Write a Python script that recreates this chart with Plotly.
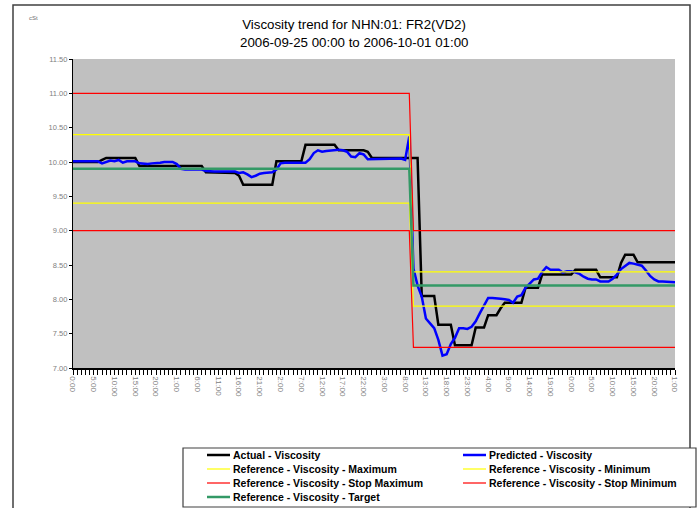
import plotly.graph_objects as go

# ---------------- data ----------------
hours = list(range(146))  # 2006-09-25 00:00 .. 2006-10-01 01:00, hourly

actual = [
    10.00, 10.00, 10.00, 10.00, 10.00, 10.00, 10.00, 10.03, 10.06, 10.06,
    10.06, 10.06, 10.06, 10.06, 10.06, 10.06, 9.94, 9.94, 9.94, 9.94,
    9.94, 9.94, 9.94, 9.94, 9.94, 9.94, 9.94, 9.94, 9.94, 9.94,
    9.94, 9.94, 9.85, 9.85, 9.85, 9.85, 9.85, 9.85, 9.85, 9.84,
    9.80, 9.67, 9.67, 9.67, 9.67, 9.67, 9.67, 9.67, 9.67, 10.01,
    10.01, 10.01, 10.01, 10.01, 10.01, 10.01, 10.25, 10.25, 10.25, 10.25,
    10.25, 10.25, 10.25, 10.25, 10.17, 10.17, 10.17, 10.17, 10.17, 10.17,
    10.17, 10.15, 10.06, 10.06, 10.06, 10.06, 10.06, 10.06, 10.06, 10.06,
    10.06, 10.06, 10.06, 10.06, 8.05, 8.05, 8.05, 8.05, 7.63, 7.63,
    7.63, 7.63, 7.33, 7.33, 7.33, 7.33, 7.33, 7.59, 7.59, 7.59,
    7.77, 7.77, 7.77, 7.87, 7.95, 7.95, 7.95, 7.95, 7.95, 8.17,
    8.17, 8.17, 8.17, 8.36, 8.36, 8.36, 8.36, 8.36, 8.36, 8.36,
    8.36, 8.43, 8.43, 8.43, 8.43, 8.43, 8.43, 8.32, 8.32, 8.32,
    8.32, 8.32, 8.53, 8.65, 8.65, 8.65, 8.54, 8.54, 8.54, 8.54,
    8.54, 8.54, 8.54, 8.54, 8.54, 8.54,
]

predicted = [
    10.01, 10.01, 10.01, 10.01, 10.01, 10.01, 10.01, 9.98, 10.00, 10.02,
    10.01, 10.03, 9.99, 10.01, 10.01, 10.01, 9.98, 9.97, 9.97, 9.98,
    9.98, 9.99, 10.00, 10.00, 10.00, 9.97, 9.90, 9.89, 9.89, 9.89,
    9.89, 9.89, 9.87, 9.86, 9.86, 9.86, 9.86, 9.86, 9.86, 9.86,
    9.84, 9.85, 9.82, 9.78, 9.80, 9.83, 9.84, 9.84, 9.85, 9.89,
    9.98, 9.99, 9.99, 9.99, 10.00, 10.00, 9.99, 10.04, 10.13, 10.17,
    10.15, 10.16, 10.17, 10.18, 10.18, 10.17, 10.15, 10.08, 10.07, 10.13,
    10.11, 10.04, 10.04, 10.05, 10.05, 10.04, 10.05, 10.05, 10.04, 10.05,
    10.03, 10.37, 8.45, 8.20, 8.04, 7.72, 7.65, 7.58, 7.41, 7.18,
    7.20, 7.35, 7.44, 7.58, 7.58, 7.57, 7.60, 7.68, 7.80, 7.92,
    8.02, 8.02, 8.02, 8.01, 8.00, 7.99, 7.95, 8.04, 8.06, 8.17,
    8.23, 8.29, 8.30, 8.40, 8.47, 8.43, 8.43, 8.43, 8.39, 8.41,
    8.41, 8.39, 8.37, 8.33, 8.30, 8.29, 8.29, 8.26, 8.26, 8.26,
    8.30, 8.36, 8.44, 8.48, 8.53, 8.52, 8.50, 8.49, 8.42, 8.34,
    8.29, 8.26, 8.26, 8.26, 8.26, 8.25,
]

# reference limits: value changes between hour 81 and 82
ref_hours = [0, 81, 82, 145]
ref_max = [10.4, 10.4, 8.4, 8.4]
ref_min = [9.4, 9.4, 7.9, 7.9]
stop_max = [11.0, 11.0, 9.0, 9.0]
stop_min = [9.0, 9.0, 7.3, 7.3]
target = [9.9, 9.9, 8.2, 8.2]

tick_hours = list(range(0, 146, 5))
tick_labels = ["0:00", "5:00", "10:00", "15:00", "20:00", "1:00", "6:00", "11:00",
               "16:00", "21:00", "2:00", "7:00", "12:00", "17:00", "22:00", "3:00",
               "8:00", "13:00", "18:00", "23:00", "4:00", "9:00", "14:00", "19:00",
               "0:00", "5:00", "10:00", "15:00", "20:00", "1:00"]

title_line1 = "Viscosity trend for NHN:01: FR2(VD2)"
title_line2 = "2006-09-25 00:00 to 2006-10-01 01:00"

series = [
    ("Actual - Viscosity", hours, actual, "#000000", 2.5),
    ("Predicted - Viscosity", hours, predicted, "#0000FF", 2.5),
    ("Reference - Viscosity - Maximum", ref_hours, ref_max, "#FFFF00", 1.2),
    ("Reference - Viscosity - Minimum", ref_hours, ref_min, "#FFFF00", 1.2),
    ("Reference - Viscosity - Stop Maximum", ref_hours, stop_max, "#FF0000", 1.2),
    ("Reference - Viscosity - Stop Minimum", ref_hours, stop_min, "#FF0000", 1.2),
    ("Reference - Viscosity - Target", ref_hours, target, "#339966", 2.5),
]

FONT = "Liberation Sans, Arial, sans-serif"
W, H = 700, 508
PL, PR, PT, PB = 73, 675, 59, 368


def fx(px):
    return (px - PL) / (PR - PL)


def fy(py):
    return (PB - py) / (PB - PT)


fig = go.Figure()
for name, xs, ys, col, wd in series:
    fig.add_trace(go.Scatter(x=xs, y=ys, mode="lines", name=name,
                             line=dict(color=col, width=wd), showlegend=False,
                             hoverinfo="skip"))

shapes = []
annotations = []

# outer chart border
shapes.append(dict(type="rect", xref="paper", yref="paper",
                   x0=fx(13), x1=fx(690), y0=fy(515), y1=fy(5),
                   line=dict(color="#404040", width=1.5), layer="below"))
# legend box
shapes.append(dict(type="rect", xref="paper", yref="paper",
                   x0=fx(183), x1=fx(696), y0=fy(507), y1=fy(448),
                   line=dict(color="#404040", width=1.2), fillcolor="white", layer="below"))

# legend entries (two columns)
legend_pos = [(207, 455), (463, 455), (207, 469), (463, 469), (207, 483), (463, 483), (207, 497)]
for (name, xs, ys, col, wd), (lx, ly) in zip(series, legend_pos):
    shapes.append(dict(type="line", xref="paper", yref="paper",
                       x0=fx(lx), x1=fx(lx + 23), y0=fy(ly), y1=fy(ly),
                       line=dict(color=col, width=wd)))
    annotations.append(dict(text=name, xref="paper", yref="paper",
                            x=fx(lx + 24), y=fy(ly), xanchor="left", yanchor="middle",
                            showarrow=False,
                            font=dict(family=FONT, size=10.5, color="#000000", weight="bold")))

annotations.append(dict(text="cSt", xref="paper", yref="paper", x=fx(27), y=fy(18),
                        xanchor="left", yanchor="middle", showarrow=False,
                        font=dict(family=FONT, size=6, color="#707070")))
annotations.append(dict(text=title_line2, xref="paper", yref="paper", x=fx(354), y=fy(43),
                        xanchor="center", yanchor="middle", showarrow=False,
                        font=dict(family=FONT, size=13.3, color="#000000")))

fig.update_layout(
    width=W, height=H,
    margin=dict(l=PL, r=W - PR, t=PT, b=H - PB),
    paper_bgcolor="white",
    plot_bgcolor="#C0C0C0",
    font=dict(family=FONT),
    title=dict(text=title_line1,
               x=354 / W, xanchor="center", xref="container",
               y=1 - 24 / H, yanchor="middle", yref="container",
               font=dict(family=FONT, size=13.3, color="#000000")),
    shapes=shapes,
    annotations=annotations,
    showlegend=False,
    hovermode=False,
)

fig.update_xaxes(range=[0, 145], tickmode="array", tickvals=tick_hours, ticktext=tick_labels,
                 tickangle=90, ticks="outside", ticklen=5, tickwidth=1, tickcolor="#000000",
                 minor=dict(ticks="outside", ticklen=5, tickwidth=1, tickcolor="#000000",
                            dtick=1, tick0=0, showgrid=False),
                 showgrid=False, zeroline=False, showline=True, linecolor="#000000", linewidth=1.5,
                 tickfont=dict(family=FONT, size=8, color="#808080"))
fig.update_yaxes(range=[7, 11.5], dtick=0.5, tick0=7, tickformat=".2f",
                 ticks="outside", ticklen=3, tickwidth=1, tickcolor="#000000",
                 showgrid=False, zeroline=False, showline=True, linecolor="#000000", linewidth=1.2,
                 tickfont=dict(family=FONT, size=7.5, color="#808080"))

fig.write_html("out.html", config={"displayModeBar": False},
               post_script="document.body.style.margin='0';"
                           "document.body.style.overflow='hidden';"
                           "document.documentElement.style.overflow='hidden';")
